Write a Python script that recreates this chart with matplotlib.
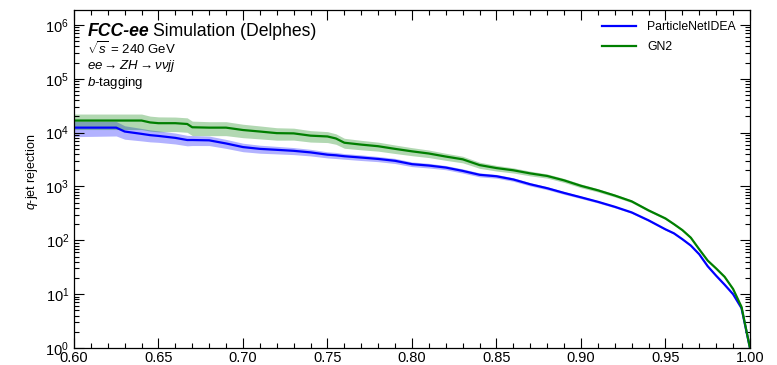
import matplotlib
matplotlib.use("Agg")
import matplotlib.pyplot as plt
from matplotlib.ticker import LogLocator, MultipleLocator, NullFormatter, FormatStrFormatter
import numpy as np

plt.rcParams["font.family"] = ["Liberation Sans", "DejaVu Sans"]
plt.rcParams["mathtext.fontset"] = "custom"
plt.rcParams["mathtext.rm"] = "Liberation Sans"
plt.rcParams["mathtext.it"] = "Liberation Sans:italic"
plt.rcParams["mathtext.bf"] = "Liberation Sans:bold"

# b-jet efficiency grid
b_eff = [0.600, 0.625, 0.630, 0.640, 0.645, 0.650, 0.660, 0.667, 0.670, 0.680,
         0.690, 0.700, 0.710, 0.720, 0.730, 0.740, 0.750, 0.755, 0.760, 0.770,
         0.780, 0.790, 0.800, 0.810, 0.820, 0.830, 0.840, 0.850, 0.860, 0.870,
         0.880, 0.890, 0.900, 0.910, 0.920, 0.930, 0.940, 0.950, 0.955, 0.960,
         0.965, 0.970, 0.975, 0.980, 0.985, 0.990, 0.995, 1.000]

# q-jet rejection, ParticleNetIDEA
rej_pnet = [12400, 12400, 10500, 9500, 9000, 8700, 8000, 7300, 7300, 7200,
            6300, 5400, 5000, 4800, 4600, 4300, 3900, 3800, 3650, 3450,
            3250, 3000, 2600, 2450, 2250, 1950, 1650, 1550, 1350, 1100,
            930, 760, 630, 520, 420, 330, 235, 160, 135, 105,
            80, 55, 33, 22, 15, 10, 5.5, 1.0]
# relative statistical uncertainty, ParticleNetIDEA
err_pnet = [0.32, 0.30, 0.28, 0.26, 0.25, 0.24, 0.23, 0.22, 0.21, 0.20,
            0.19, 0.18, 0.17, 0.16, 0.15, 0.14, 0.13, 0.13, 0.12, 0.12,
            0.11, 0.11, 0.10, 0.10, 0.09, 0.09, 0.085, 0.08, 0.075, 0.07,
            0.065, 0.06, 0.055, 0.05, 0.045, 0.04, 0.04, 0.035, 0.035, 0.035,
            0.03, 0.03, 0.03, 0.03, 0.03, 0.03, 0.03, 0.0]

# q-jet rejection, GN2
rej_gn2 = [16800, 16800, 16800, 16800, 15500, 15000, 15000, 14500, 12600, 12400,
           12400, 11200, 10500, 9800, 9700, 8800, 8500, 7800, 6500, 6000,
           5600, 5000, 4500, 4100, 3600, 3200, 2500, 2200, 2000, 1750,
           1570, 1300, 1030, 850, 680, 530, 360, 255, 200, 155,
           112, 68, 42, 30, 21, 12.5, 5.8, 1.0]
# relative statistical uncertainty, GN2
err_gn2 = [0.32, 0.32, 0.32, 0.32, 0.31, 0.31, 0.30, 0.30, 0.30, 0.29,
           0.29, 0.28, 0.27, 0.26, 0.25, 0.24, 0.23, 0.22, 0.21, 0.20,
           0.19, 0.18, 0.17, 0.16, 0.15, 0.14, 0.13, 0.12, 0.11, 0.10,
           0.09, 0.085, 0.08, 0.07, 0.06, 0.055, 0.05, 0.045, 0.04, 0.04,
           0.035, 0.035, 0.03, 0.03, 0.03, 0.03, 0.03, 0.0]

series = [
    ("ParticleNetIDEA", rej_pnet, err_pnet, "#0000ff"),
    ("GN2", rej_gn2, err_gn2, "#007f00"),
]

fig = plt.figure(figsize=(7.77, 3.65), dpi=100)
ax = fig.add_axes([0.0952, 0.0466, 0.8700, 0.9260])

x = np.array(b_eff)
for label, rej, err, color in series:
    r = np.array(rej)
    e = np.array(err)
    ax.fill_between(x, r * (1 - e), r * (1 + e), color=color, alpha=0.3,
                    linewidth=0)
    ax.plot(x, r, color=color, linewidth=1.6, label=label)

ax.set_yscale("log")
ax.set_xlim(0.6, 1.0)
ax.set_ylim(1, 1.9e6)

ax.xaxis.set_major_locator(MultipleLocator(0.05))
ax.xaxis.set_minor_locator(MultipleLocator(0.01))
ax.xaxis.set_major_formatter(FormatStrFormatter("%.2f"))
ax.yaxis.set_major_locator(LogLocator(base=10, numticks=10))
ax.yaxis.set_minor_locator(LogLocator(base=10, subs=np.arange(2, 10), numticks=20))
ax.yaxis.set_minor_formatter(NullFormatter())

ax.tick_params(which="both", direction="in", top=True, right=True,
               labelsize=10.5, width=0.8)
ax.tick_params(which="major", length=7)
ax.tick_params(which="minor", length=3.5)
ax.tick_params(axis="x", pad=2)
for sp in ax.spines.values():
    sp.set_linewidth(0.9)

ax.set_ylabel(r"$q$-jet rejection", fontsize=9)
ax.yaxis.set_label_coords(-0.050, 0.52)

# Experiment label: bold-italic name followed by regular text
t_bold = ax.text(0.020, 0.963, "FCC-ee", transform=ax.transAxes, fontsize=12.7,
                 fontweight="bold", fontstyle="italic", va="top", ha="left")
fig.canvas.draw()
bb = t_bold.get_window_extent(renderer=fig.canvas.get_renderer())
x_end = ax.transAxes.inverted().transform((bb.x1, bb.y1))[0]
ax.text(x_end + 0.006, 0.963, "Simulation (Delphes)", transform=ax.transAxes,
        fontsize=12.7, va="top", ha="left")

ax.text(0.020, 0.887, r"$\sqrt{s}$ = 240 GeV", transform=ax.transAxes,
        fontsize=9.5, va="center", ha="left")
ax.text(0.020, 0.835, r"$ee \rightarrow ZH \rightarrow \nu\nu jj$",
        transform=ax.transAxes, fontsize=9.5, va="center", ha="left")
ax.text(0.020, 0.785, r"$b$-tagging", transform=ax.transAxes,
        fontsize=9.5, va="center", ha="left")

ax.legend(loc="upper right", frameon=False, fontsize=8.8, handlelength=2.8,
          handletextpad=0.9, borderaxespad=0.5, labelspacing=0.65,
          bbox_to_anchor=(0.995, 1.0))

fig.savefig("out.png", dpi=100)
